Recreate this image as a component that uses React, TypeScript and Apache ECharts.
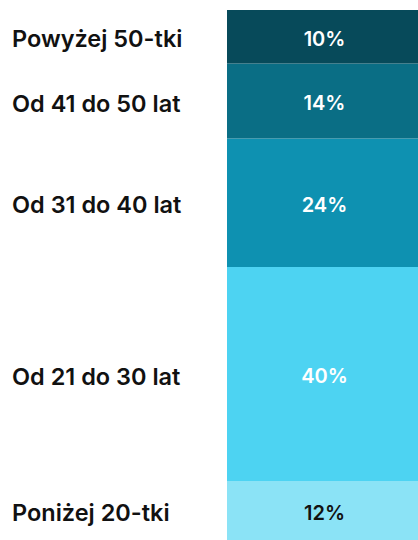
import React, { useEffect, useRef } from "react";
import * as echarts from "echarts";

// bottom to top
const groups = ["Poniżej 20-tki", "Od 21 do 30 lat", "Od 31 do 40 lat", "Od 41 do 50 lat", "Powyżej 50-tki"];
const shares = [12, 40, 24, 14, 10];
const colors = ["#8be3f6", "#4dd3f2", "#0e91b1", "#0a6e85", "#074a5a"];
const labelColors = ["#111111", "#ffffff", "#ffffff", "#ffffff", "#ffffff"];

const FONT = "Inter";

export default function App() {
  const ref = useRef<HTMLDivElement>(null);
  useEffect(() => {
    const chart = echarts.init(ref.current!, undefined, { renderer: "svg" });
    const series: any[] = [];
    groups.forEach((g, i) => {
      series.push({
        type: "bar",
        name: g + "-name",
        stack: "names",
        xAxisIndex: 0,
        yAxisIndex: 0,
        barWidth: "100%",
        data: [shares[i]],
        itemStyle: { color: "rgba(0,0,0,0)" },
        label: {
          show: true,
          position: "insideLeft",
          distance: 0,
          offset: [0, 2],
          formatter: g,
          color: "#111111",
          fontFamily: FONT,
          fontWeight: 600,
          fontSize: 23.5,
        },
        silent: true,
      });
      series.push({
        type: "bar",
        name: g,
        stack: "bar",
        xAxisIndex: 1,
        yAxisIndex: 1,
        barWidth: "100%",
        data: [shares[i]],
        itemStyle: { color: colors[i] },
        label: {
          show: true,
          position: "inside",
          offset: [2, 2],
          formatter: shares[i] + "%",
          color: labelColors[i],
          fontFamily: FONT,
          fontWeight: 600,
          fontSize: 20,
        },
      });
    });
    chart.setOption({
      animation: false,
      grid: [
        { left: 12, width: 210, top: 10, bottom: 0 },
        { left: 227, right: 0, top: 10, bottom: 0 },
      ],
      xAxis: [
        { type: "category", gridIndex: 0, data: ["a"], show: false },
        { type: "category", gridIndex: 1, data: ["a"], show: false },
      ],
      yAxis: [
        { type: "value", gridIndex: 0, min: 1, max: 100, show: false },
        { type: "value", gridIndex: 1, min: 1, max: 100, show: false },
      ],
      series,
    });
    return () => chart.dispose();
  }, []);
  return <div ref={ref} style={{ width: 418, height: 540, position: "absolute", left: 0, top: 0 }} />;
}
